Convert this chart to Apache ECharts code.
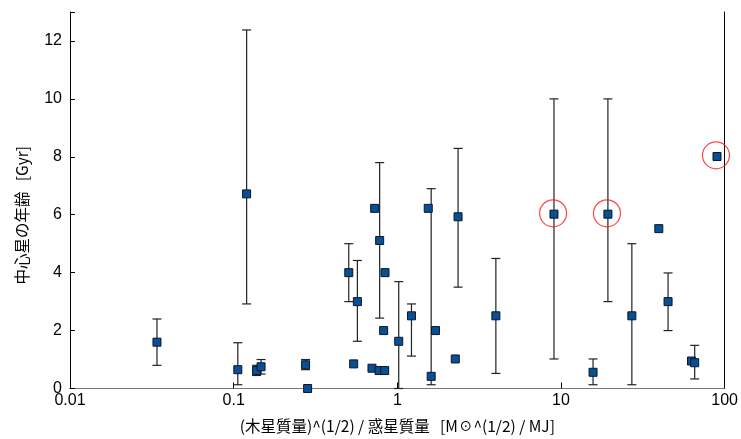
<!DOCTYPE html>
<html>
<head>
<meta charset="utf-8">
<script src="https://cdn.jsdelivr.net/npm/echarts@6/dist/echarts.min.js"></script>
<style>html,body{margin:0;padding:0;background:#fff}#c{width:741px;height:439px}</style>
</head>
<body>
<div id="c"></div>
<script>
// ---- data ----
var massRatio = [0.034, 0.106, 0.12, 0.138, 0.147, 0.275, 0.283, 0.505, 0.541, 0.57, 0.70, 0.727, 0.78, 0.773, 0.837, 0.841, 0.825, 1.02, 1.22, 1.545, 1.61, 1.71, 2.26, 2.35, 4.0, 9.06, 19.35, 15.7, 27.1, 39.6, 45.1, 62.7, 65.6, 89.8];
var age       = [1.6, 0.65, 6.72, 0.62, 0.75, 0.82, 0.0, 4.0, 0.85, 3.0, 0.7, 6.22, 5.11, 0.62, 0.62, 4.0, 2.0, 1.63, 2.51, 6.22, 0.42, 2.0, 1.02, 5.93, 2.51, 6.02, 6.02, 0.56, 2.51, 5.52, 3.0, 0.95, 0.89, 8.01];
var ageLow    = [0.8, 0.13, 2.92, 0.45, 0.5, 0.65, null, 3.0, null, 1.63, null, null, 2.43, null, null, null, null, 0.0, 1.12, null, 0.13, null, null, 3.5, 0.52, 1.02, 3.0, 0.13, 0.13, null, 2.0, null, 0.33, null];
var ageHigh   = [2.4, 1.58, 12.38, 0.8, 1.0, 1.0, null, 5.0, null, 4.42, null, null, 7.8, null, null, null, null, 3.69, 2.92, null, 6.9, null, null, 8.29, 4.49, 10.0, 10.0, 1.02, 5.0, null, 3.99, null, 1.49, null];
var circledX  = [8.95, 19.1, 88.5];
var circledY  = [6.05, 6.05, 8.05];
var xTickLabels = ['0.01', '0.1', '1', '10', '100'];
var yTickLabels = ['0', '2', '4', '6', '8', '10', '12'];

var points = massRatio.map(function (x, i) { return [x, age[i]]; });
var bars = [];
massRatio.forEach(function (x, i) {
  if (ageLow[i] !== null) bars.push([x, ageLow[i], ageHigh[i]]);
});
var circles = circledX.map(function (x, i) { return [x, circledY[i]]; });

var chart = echarts.init(document.getElementById('c'));
var font = 'Liberation Sans, Arial, sans-serif';
chart.setOption({
  animation: false,
  backgroundColor: '#fff',
  grid: { left: 70, right: 15, top: 12, bottom: 49 },
  xAxis: [{
    type: 'log', logBase: 10, min: 0.01, max: 100,
    axisLine: { show: true, lineStyle: { color: '#000', width: 1 } },
    axisTick: { show: true, inside: true, length: 6, lineStyle: { color: '#000' } },
    minorTick: { show: false },
    splitLine: { show: false },
    axisLabel: {
      color: '#000', fontSize: 16, fontFamily: font, margin: 4,
      formatter: function (v) {
        var k = Math.round(Math.log10(v)) + 2;
        return xTickLabels[k] !== undefined ? xTickLabels[k] : '';
      }
    },
    name: '(木星質量)^(1/2) / 惑星質量   [M☉^(1/2) / MJ]',
    nameLocation: 'middle', nameGap: 30,
    nameTextStyle: { color: '#000', fontSize: 15.5, fontFamily: 'Noto Sans CJK JP, sans-serif' }
  }, {
    type: 'log', logBase: 10, min: 0.01, max: 100, position: 'top',
    axisLine: { show: true, lineStyle: { color: '#777', width: 1 } },
    axisTick: { show: false }, axisLabel: { show: false }, splitLine: { show: false }
  }],
  yAxis: [{
    type: 'value', min: 0, max: 13, interval: 2,
    axisLine: { show: true, lineStyle: { color: '#000', width: 1 } },
    axisTick: { show: true, inside: true, length: 5, lineStyle: { color: '#000' } },
    splitLine: { show: false },
    axisLabel: {
      color: '#000', fontSize: 16, fontFamily: font, margin: 8,
      formatter: function (v) {
        var k = Math.round(v / 2);
        return (v % 2 === 0 && yTickLabels[k] !== undefined) ? yTickLabels[k] : '';
      }
    },
    name: '中心星の年齢   [Gyr]',
    nameLocation: 'middle', nameGap: 40,
    nameTextStyle: { color: '#000', fontSize: 15.5, fontFamily: 'Noto Sans CJK JP, sans-serif', padding: [0, 30, 0, 0] }
  }, {
    type: 'value', min: 0, max: 13, position: 'right',
    axisLine: { show: true, lineStyle: { color: '#000', width: 1 } },
    axisTick: { show: false }, axisLabel: { show: false }, splitLine: { show: false }
  }],
  series: [{
    type: 'custom',
    data: bars,
    z: 2,
    renderItem: function (params, api) {
      var x = api.value(0);
      var lo = api.coord([x, api.value(1)]);
      var hi = api.coord([x, api.value(2)]);
      var hw = 4.5;
      var st = { stroke: '#222', lineWidth: 1.2 };
      return {
        type: 'group',
        children: [
          { type: 'line', shape: { x1: lo[0], y1: lo[1], x2: hi[0], y2: hi[1] }, style: st },
          { type: 'line', shape: { x1: lo[0] - hw, y1: lo[1], x2: lo[0] + hw, y2: lo[1] }, style: st },
          { type: 'line', shape: { x1: hi[0] - hw, y1: hi[1], x2: hi[0] + hw, y2: hi[1] }, style: st }
        ]
      };
    }
  }, {
    type: 'scatter',
    data: points,
    z: 3,
    symbol: 'rect', symbolSize: 8,
    itemStyle: { color: '#0b4f93', borderColor: '#06182e', borderWidth: 1, opacity: 1 }
  }, {
    type: 'scatter',
    data: circles,
    z: 4,
    symbol: 'circle', symbolSize: 27,
    itemStyle: { color: 'rgba(0,0,0,0)', borderColor: '#ff1a1a', borderWidth: 1.2 }
  }]
});
</script>
</body>
</html>
